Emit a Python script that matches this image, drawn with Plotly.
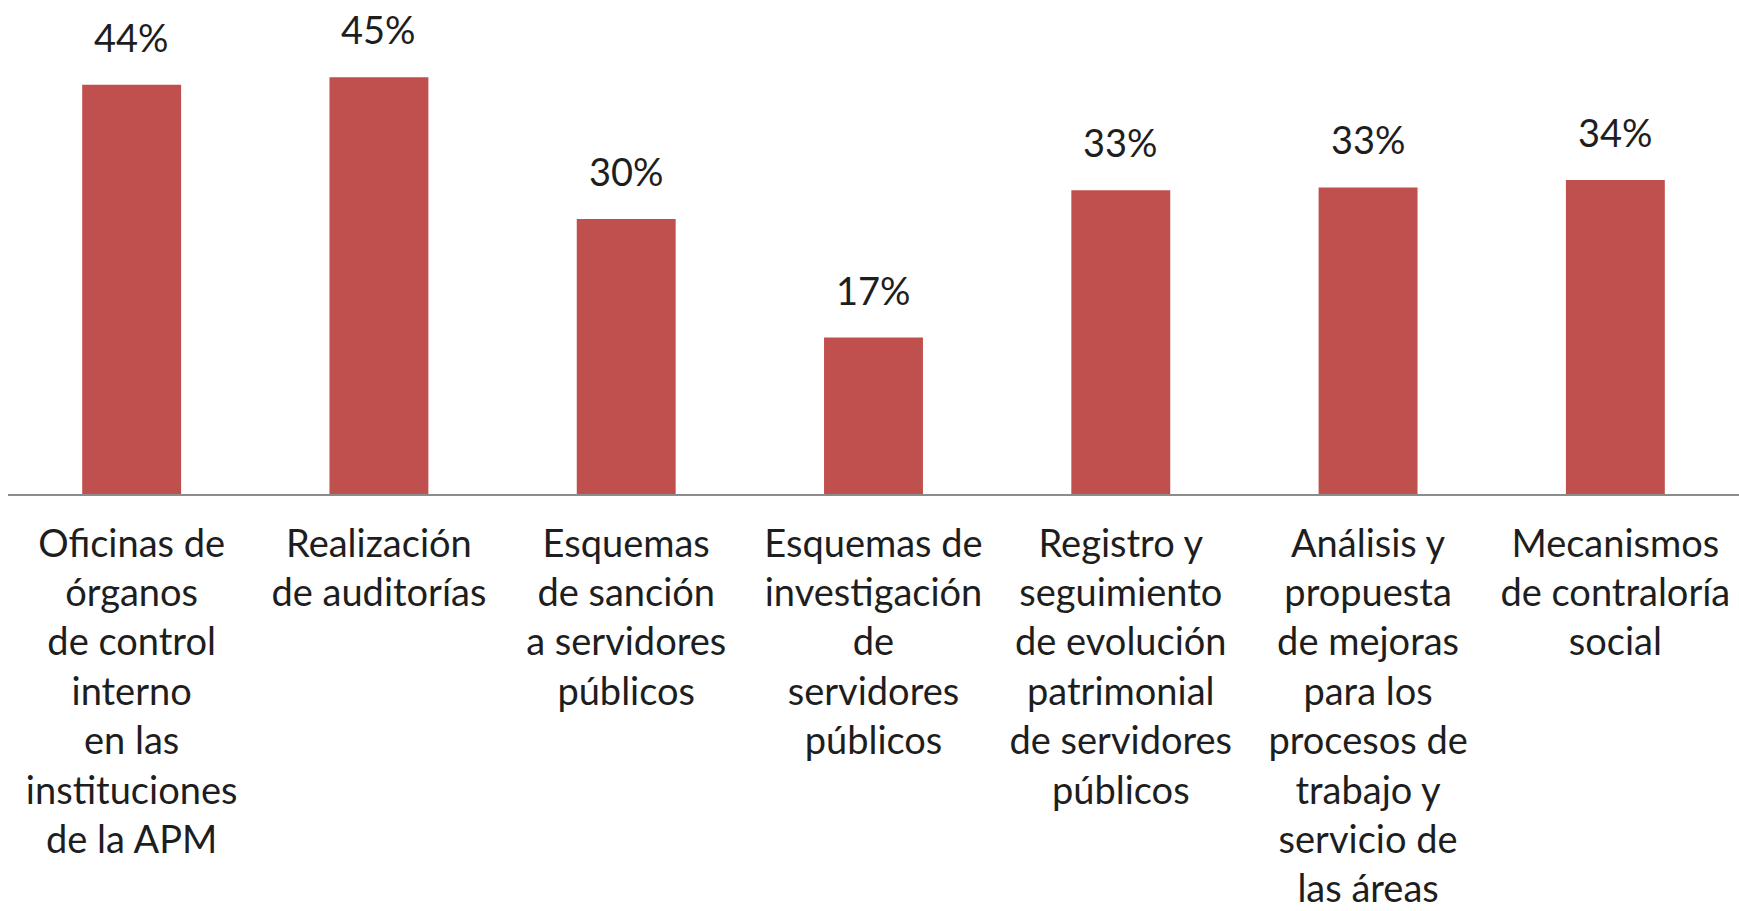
import plotly.graph_objects as go

categories = [
    "Oficinas de<br>órganos<br>de control<br>interno<br>en las<br>instituciones<br>de la APM",
    "Realización<br>de auditorías",
    "Esquemas<br>de sanción<br>a servidores<br>públicos",
    "Esquemas de<br>investigación<br>de<br>servidores<br>públicos",
    "Registro y<br>seguimiento<br>de evolución<br>patrimonial<br>de servidores<br>públicos",
    "Análisis y<br>propuesta<br>de mejoras<br>para los<br>procesos de<br>trabajo y<br>servicio de<br>las áreas",
    "Mecanismos<br>de contraloría<br>social",
]
values = [0.442, 0.450, 0.297, 0.169, 0.328, 0.331, 0.339]
labels = ["44%", "45%", "30%", "17%", "33%", "33%", "34%"]

FONT = "Lato"
TEXT_COLOR = "#1e1e1e"

fig = go.Figure(
    go.Bar(
        x=categories,
        y=values,
        marker=dict(color="#C0504D", line=dict(width=0)),
        hoverinfo="skip",
    )
)

for c, v, t in zip(categories, values, labels):
    fig.add_annotation(
        x=c, y=v, text=t, showarrow=False,
        xref="x", yref="y", yanchor="bottom", yshift=23,
        font=dict(family=FONT, size=38, color=TEXT_COLOR),
    )

fig.update_layout(
    width=1739, height=911,
    margin=dict(l=8, r=0, t=31, b=417, autoexpand=False),
    paper_bgcolor="white", plot_bgcolor="white",
    bargap=0.6,
    showlegend=False,
    font=dict(family=FONT, size=38, color=TEXT_COLOR),
)
fig.update_xaxes(
    showline=True, linecolor="#8c8c8c", linewidth=2,
    ticks="", showgrid=False, tickangle=0,
    tickfont=dict(family=FONT, size=38, color=TEXT_COLOR),
    ticklabelstandoff=15, automargin=False,
)
fig.update_yaxes(
    range=[0, 0.5], visible=False, showgrid=False, zeroline=False,
)

fig.write_html(
    "out.html",
    config={"displayModeBar": False},
    post_script="document.body.style.margin='0';document.body.style.overflow='hidden';",
)
